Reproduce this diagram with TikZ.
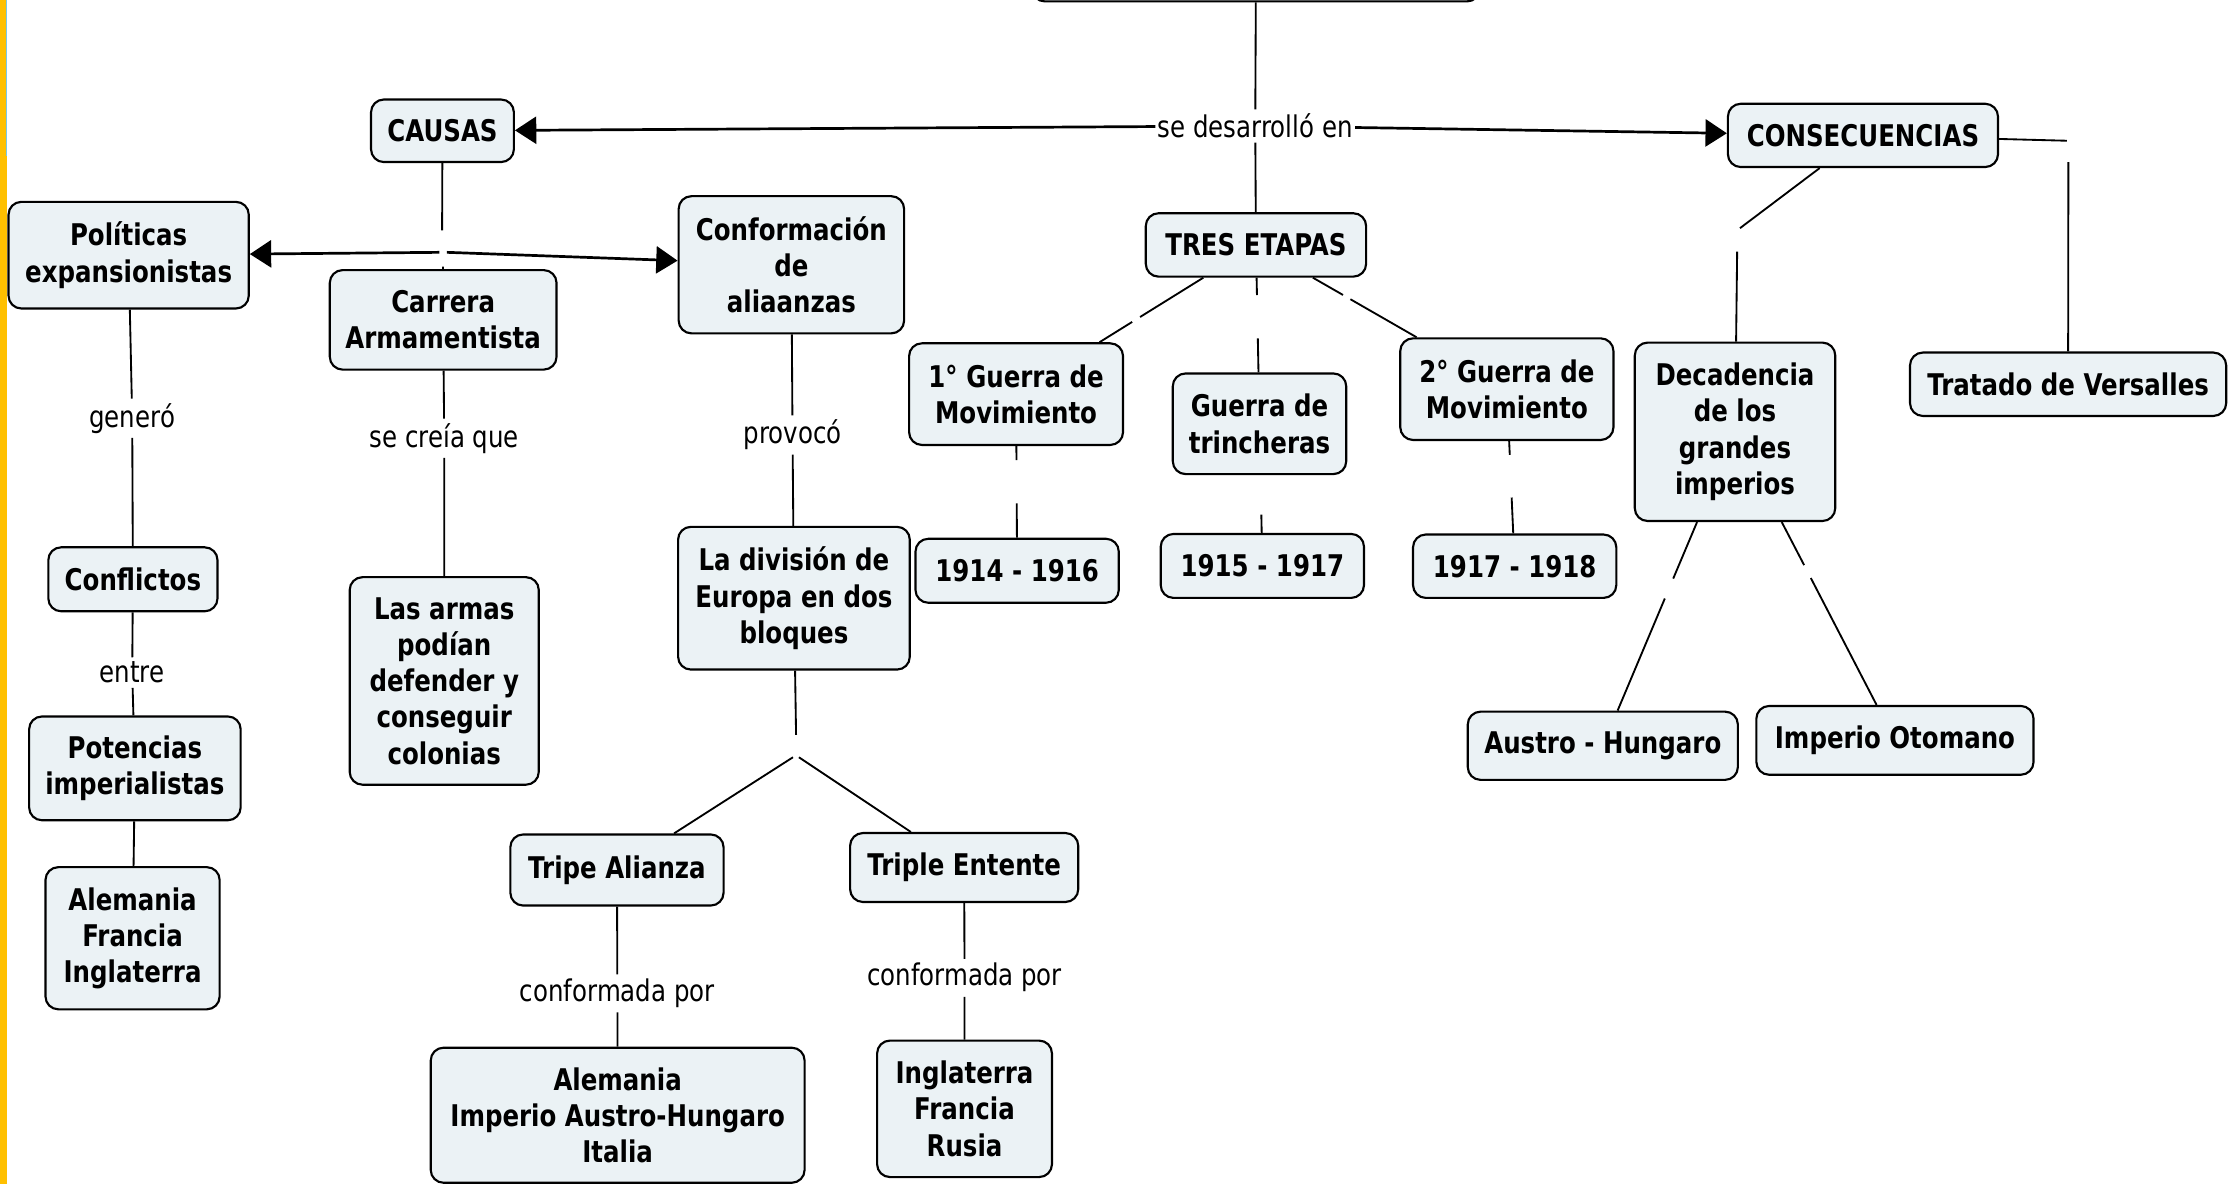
\documentclass[tikz,border=0pt]{standalone}
\usepackage{fontspec}
\newfontfamily\cmapfont{DejaVu Sans}[FakeStretch=0.82]
\usetikzlibrary{arrows.meta,calc}
\definecolor{boxfill}{RGB}{235,242,245}
\definecolor{sideyellow}{RGB}{255,192,0}
\definecolor{sideblue}{RGB}{120,200,230}
\tikzset{
  concept/.style={draw=black, line width=1.5pt, fill=boxfill, rounded corners=9pt,
    align=center, inner sep=0pt, font=\cmapfont\bfseries\fontsize{21}{25.5}\selectfont},
  phrase/.style={fill=white, inner xsep=1.5pt, inner ysep=3pt,
    font=\cmapfont\fontsize{21}{25.5}\selectfont},
  link/.style={line width=1.3pt},
  arrowlink/.style={line width=1.9pt, -{Triangle[length=15pt,width=19pt]}},
}
\begin{document}
\begin{tikzpicture}[x=1pt,y=-1pt]
\useasboundingbox (0,0) rectangle (1568,832.9);
% left margin strip
\fill[sideyellow] (0,0) rectangle (4.2,110);
\fill[sideyellow] (0,110) rectangle (5.2,832.9);
\draw[sideblue, line width=0.6pt] (4.6,0) -- (4.6,110);

% ---------- concepts ----------
\node[concept, minimum width=315pt, minimum height=42pt] (topbox) at (883.5,-20) {};
\node[concept, minimum width=100.5pt, minimum height=44pt] (causas) at (311.25,92) {CAUSAS};
\node[concept, minimum width=190pt, minimum height=44.5pt] (conse) at (1310.5,95.25) {CONSECUENCIAS};
\node[concept, minimum width=155pt, minimum height=44.6pt] (tres) at (883.5,172.3) {TRES ETAPAS};
\node[concept, minimum width=169pt, minimum height=75pt] (politicas) at (90.5,179.5) {Políticas\\expansionistas};
\node[concept, minimum width=159.5pt, minimum height=70pt] (carrera) at (311.75,225) {Carrera\\Armamentista};
\node[concept, minimum width=158.6pt, minimum height=96.5pt] (conform) at (556.7,186.25) {Conformación\\de\\aliaanzas};
\node[concept, minimum width=150.5pt, minimum height=71.5pt] (guerraA) at (714.75,277.25) {1° Guerra de\\Movimiento};
\node[concept, minimum width=122pt, minimum height=70.8pt] (trinch) at (886,298.1) {Guerra de\\trincheras};
\node[concept, minimum width=150pt, minimum height=71.5pt] (guerraB) at (1060,273.75) {2° Guerra de\\Movimiento};
\node[concept, minimum width=141pt, minimum height=125.5pt] (decad) at (1220.5,303.75) {Decadencia\\de los\\grandes\\imperios};
\node[concept, minimum width=222.4pt, minimum height=44.6pt] (tratado) at (1454.8,270.3) {Tratado de Versalles};
\node[concept, minimum width=119pt, minimum height=45pt] (conflictos) at (93.5,407.5) {Conflictos};
\node[concept, minimum width=133pt, minimum height=146pt] (armas) at (312.5,479) {Las armas\\podían\\defender y\\conseguir\\colonias};
\node[concept, minimum width=163pt, minimum height=100.4pt] (division) at (558.5,420.8) {La división de\\Europa en dos\\bloques};
\node[concept, minimum width=143pt, minimum height=45pt] (fechaA) at (715.5,401.5) {1914 - 1916};
\node[concept, minimum width=143pt, minimum height=45pt] (fechaB) at (888,398.1) {1915 - 1917};
\node[concept, minimum width=143pt, minimum height=44.6pt] (fechaC) at (1065.5,398.3) {1917 - 1918};
\node[concept, minimum width=148.8pt, minimum height=73pt] (potencias) at (94.9,540.5) {Potencias\\imperialistas};
\node[concept, minimum width=122.5pt, minimum height=100pt] (paisesA) at (93.25,660) {Alemania\\Francia\\Inglaterra};
\node[concept, minimum width=190pt, minimum height=48pt] (austro) at (1127.5,524.6) {Austro - Hungaro};
\node[concept, minimum width=195pt, minimum height=48.4pt] (otomano) at (1333,520.8) {Imperio Otomano};
\node[concept, minimum width=150pt, minimum height=50pt] (tripeA) at (434,612) {Tripe Alianza};
\node[concept, minimum width=160.5pt, minimum height=48.5pt] (tripleE) at (678.25,610.25) {Triple Entente};
\node[concept, minimum width=263pt, minimum height=95pt] (paisesB) at (434.5,784.5) {Alemania\\Imperio Austro-Hungaro\\Italia};
\node[concept, minimum width=123pt, minimum height=96pt] (paisesC) at (678.5,780) {Inglaterra\\Francia\\Rusia};

% ---------- linking phrases ----------
\node[phrase] (sedes) at (883,88.6) {se desarrolló en};
\node[phrase] (genero) at (93,294.2) {generó};
\node[phrase] (entre) at (93,473.2) {entre};
\node[phrase] (secreia) at (312.5,308.3) {se creía que};
\node[phrase] (provoco) at (557.5,306) {provocó};
\node[phrase] (confA) at (434.3,698.8) {conformada por};
\node[phrase] (confB) at (678.5,687.8) {conformada por};

% ---------- connectors ----------
\draw[link] (topbox) -- (sedes) -- (tres);
\draw[arrowlink] (sedes) -- (causas);
\draw[arrowlink] (sedes) -- (conse);

% causas
\coordinate (cT) at (311,162);
\coordinate (cL) at (309,177.5);
\coordinate (cR) at (314.4,177.5);
\coordinate (cB) at (311.6,187.6);
\draw[link] (causas) -- (cT);
\draw[arrowlink] (cL) -- (politicas);
\draw[arrowlink] (cR) -- (conform);
\draw[link] (cB) -- (carrera);

\draw[link] (politicas) -- (genero) -- (conflictos);
\draw[link] (conflictos) -- (entre) -- (potencias);
\draw[link] (potencias) -- (paisesA);
\draw[link] (carrera) -- (secreia) -- (armas);
\draw[link] (conform) -- (provoco) -- (division);

% division de Europa
\coordinate (vT) at (560,517);
\coordinate (vL) at (557.8,532.7);
\coordinate (vR) at (562,532.7);
\draw[link] (division) -- (vT);
\draw[link] (vL) -- (tripeA);
\draw[link] (vR) -- (tripleE);
\draw[link] (tripeA) -- (confA) -- (paisesB);
\draw[link] (tripleE) -- (confB) -- (paisesC);

% tres etapas
\draw[link] (tres) -- ($(tres)!0.483!(guerraA)$);
\draw[link] ($(tres)!0.516!(guerraA)$) -- (guerraA);
\draw[link] (tres) -- ($(tres)!0.28!(trinch)$);
\draw[link] ($(tres)!0.523!(trinch)$) -- (trinch);
\draw[link] (tres) -- ($(tres)!0.347!(guerraB)$);
\draw[link] ($(tres)!0.3765!(guerraB)$) -- (guerraB);

% etapas -> fechas
\draw[link] (guerraA) -- ($(guerraA)!0.373!(fechaA)$);
\draw[link] ($(guerraA)!0.618!(fechaA)$) -- (fechaA);
\draw[link] ($(trinch)!0.639!(fechaB)$) -- (fechaB);
\draw[link] (guerraB) -- ($(guerraB)!0.371!(fechaC)$);
\draw[link] ($(guerraB)!0.612!(fechaC)$) -- (fechaC);

% consecuencias
\coordinate (kA1) at (1224,160.5);
\coordinate (kA2) at (1222,177);
\coordinate (kB1) at (1454,99);
\coordinate (kB2) at (1455,114);
\draw[link] (conse) -- (kA1);
\draw[link] (kA2) -- (decad);
\draw[link] (conse) -- (kB1);
\draw[link] (kB2) -- (tratado);

% decadencia
\draw[link] (decad) -- ($(decad)!0.4675!(austro)$);
\draw[link] ($(decad)!0.531!(austro)$) -- (austro);
\draw[link] (decad) -- ($(decad)!0.432!(otomano)$);
\draw[link] ($(decad)!0.474!(otomano)$) -- (otomano);
\end{tikzpicture}
\end{document}
